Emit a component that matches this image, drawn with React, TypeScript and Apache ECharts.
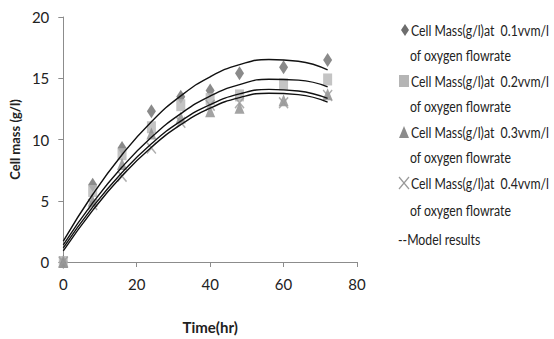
import React, { useEffect, useRef } from "react";
import * as echarts from "echarts";

const times = [0, 8, 16, 24, 32, 40, 48, 60, 72];
const mass01 = [0, 6.3, 9.3, 12.3, 13.5, 14.0, 15.4, 15.9, 16.5];
const mass02 = [0, 5.8, 8.8, 11.0, 12.8, 13.3, 13.6, 14.5, 14.9];
const mass03 = [0, 5.0, 8.0, 10.5, 11.8, 12.3, 12.6, 13.2, 13.7];
const mass04 = [0, 4.7, 7.0, 9.3, 11.4, 12.8, 13.0, 13.0, 13.6];

const modelTimes = [0, 8, 16, 24, 32, 40, 48, 56, 64, 72];
const model01 = [1.7, 5.51, 8.76, 11.45, 13.56, 15.12, 16.11, 16.53, 16.39, 15.68];
const model02 = [1.4, 4.83, 7.75, 10.18, 12.11, 13.55, 14.48, 14.92, 14.85, 14.3];
const model03 = [1.15, 4.48, 7.31, 9.65, 11.5, 12.85, 13.72, 14.09, 13.96, 13.35];
const model04 = [0.9, 4.21, 7.04, 9.37, 11.21, 12.56, 13.42, 13.78, 13.66, 13.05];

const seriesNames = [
  "Cell Mass(g/l)at  0.1vvm/l",
  "Cell Mass(g/l)at  0.2vvm/l",
  "Cell Mass(g/l)at  0.3vvm/l",
  "Cell Mass(g/l)at  0.4vvm/l",
];
const legendSecondLine = "of oxygen flowrate";
const modelLabel = "--Model results";
const xTitle = "Time(hr)";
const yTitle = "Cell mass (g/l)";

const FONT = "Lato, 'Noto Sans', sans-serif";
const X_SYMBOL =
  "path://M0,1 L1,0 L5,4 L9,0 L10,1 L6,5 L10,9 L9,10 L5,6 L1,10 L0,9 L4,5 Z";
const colors = ["#6d6d6d", "#b5b5b5", "#8c8c8c", "#9a9a9a"];

export default function App() {
  const ref = useRef<HTMLDivElement>(null);
  useEffect(() => {
    if (!ref.current) return;
    const chart = echarts.init(ref.current, undefined, { renderer: "svg" });
    const pts = (ys: number[]) => times.map((t, i) => [t, ys[i]]);
    const mpts = (ys: number[]) => modelTimes.map((t, i) => [t, ys[i]]);
    const markerDefs = [
      { data: mass01, symbol: "diamond", size: [9, 14] },
      { data: mass02, symbol: "rect", size: [9, 12] },
      { data: mass03, symbol: "triangle", size: [10, 12] },
      { data: mass04, symbol: X_SYMBOL, size: [10, 12] },
    ];
    const scatterSeries = markerDefs.map((d, i) => ({
      type: "scatter",
      name: seriesNames[i],
      data: pts(d.data),
      symbol: d.symbol,
      symbolSize: d.size,
      itemStyle: { color: colors[i] },
      clip: false,
      z: 2,
    }));
    const lineSeries = [model01, model02, model03, model04].map((m) => ({
      type: "line",
      name: "model",
      data: mpts(m),
      smooth: true,
      symbol: "none",
      lineStyle: { color: "#111", width: 1.4 },
      z: 3,
    }));

    const firstLineYs = [30, 81, 132, 183];
    const secondLineYs = [55, 106, 157, 210];
    const SX = 0.82;
    const FS = 15;
    const legendGraphics: any[] = [];
    legendGraphics.push({
      type: "polygon",
      shape: { points: [[405, 24], [409, 30], [405, 36], [401, 30]] },
      style: { fill: colors[0] },
    });
    legendGraphics.push({
      type: "rect",
      shape: { x: 399, y: 75, width: 10, height: 12 },
      style: { fill: colors[1] },
    });
    legendGraphics.push({
      type: "polygon",
      shape: { points: [[404, 126], [409, 138], [399, 138]] },
      style: { fill: colors[2] },
    });
    legendGraphics.push({
      type: "line",
      shape: { x1: 399, y1: 177, x2: 409, y2: 189 },
      style: { stroke: colors[3], lineWidth: 1.2 },
    });
    legendGraphics.push({
      type: "line",
      shape: { x1: 409, y1: 177, x2: 399, y2: 189 },
      style: { stroke: colors[3], lineWidth: 1.2 },
    });
    firstLineYs.forEach((y, i) => {
      legendGraphics.push({
        type: "text",
        x: 411,
        y,
        scaleX: SX,
        style: {
          text: seriesNames[i],
          font: `${FS}px ${FONT}`,
          fill: "#222",
          verticalAlign: "middle",
        },
      });
    });
    secondLineYs.forEach((y) => {
      legendGraphics.push({
        type: "text",
        x: 410,
        y,
        scaleX: SX,
        style: {
          text: legendSecondLine,
          font: `${FS}px ${FONT}`,
          fill: "#222",
          verticalAlign: "middle",
        },
      });
    });
    legendGraphics.push({
      type: "text",
      x: 398,
      y: 239,
      scaleX: SX,
      style: { text: modelLabel, font: `${FS}px ${FONT}`, fill: "#222", verticalAlign: "middle" },
    });

    chart.setOption({
      animation: false,
      backgroundColor: "#fff",
      grid: { left: 57, right: 197, top: 17, bottom: 76 },
      xAxis: {
        type: "value",
        min: 0,
        max: 80,
        interval: 20,
        name: xTitle,
        nameLocation: "middle",
        nameGap: 57,
        nameTextStyle: { fontFamily: FONT, fontSize: 15, fontWeight: "bold", color: "#222" },
        axisLine: { show: true, lineStyle: { color: "#8c8c8c" } },
        axisTick: { show: true, length: 5, lineStyle: { color: "#8c8c8c" } },
        axisLabel: { fontFamily: FONT, fontSize: 15, color: "#222", margin: 14 },
        splitLine: { show: false },
      },
      yAxis: {
        type: "value",
        min: 0,
        max: 20,
        interval: 5,
        name: yTitle,
        nameLocation: "middle",
        nameGap: 25,
        nameTextStyle: { fontFamily: FONT, fontSize: 13, fontWeight: "bold", color: "#222" },
        axisLine: { show: true, lineStyle: { color: "#8c8c8c" } },
        axisTick: { show: true, length: 5, lineStyle: { color: "#8c8c8c" } },
        axisLabel: { fontFamily: FONT, fontSize: 15, color: "#222", margin: 14 },
        splitLine: { show: false },
      },
      graphic: legendGraphics,
      series: [...scatterSeries, ...lineSeries],
    });
    return () => chart.dispose();
  }, []);
  return <div ref={ref} style={{ width: 554, height: 339, position: "absolute", left: 0, top: 0 }} />;
}
